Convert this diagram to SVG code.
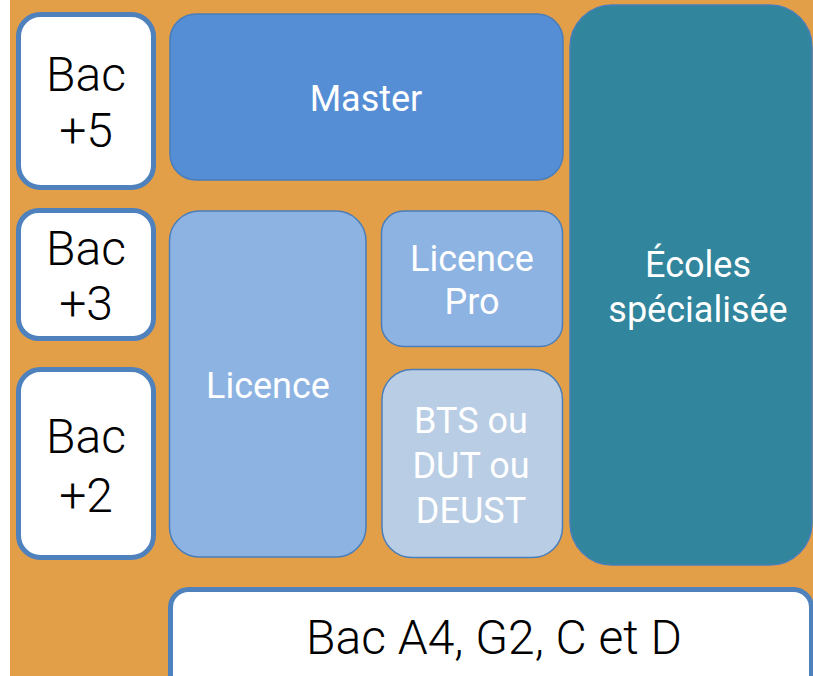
<svg xmlns="http://www.w3.org/2000/svg" width="813" height="676" viewBox="0 0 813 676">
<style>
.lvl{fill:#fff;stroke:#4F81BD;stroke-width:5}
.blk{stroke:#4A7EBB;stroke-width:1.5}
.tb{font-family:Roboto,"Liberation Sans",sans-serif;font-weight:300;fill:#000;text-anchor:middle;font-size:48px}
.tw{font-family:Roboto,"Liberation Sans",sans-serif;font-weight:400;fill:#fff;text-anchor:middle;font-size:36px}
</style>
<rect x="0" y="0" width="813" height="676" fill="#fff"/>
<rect x="10" y="0" width="803" height="676" fill="#E39F48"/>
<g id="bac5"><rect class="lvl" x="18.5" y="14.5" width="135" height="173" rx="22"/><text class="tb" x="86" y="91">Bac</text><text class="tb" x="86" y="147">+5</text></g>
<g id="master"><rect class="blk" x="170" y="14" width="393" height="166" rx="26" fill="#558ED5"/><text class="tw" x="366" y="111">Master</text></g>
<g id="ecoles"><rect class="blk" x="570" y="5" width="242" height="560" rx="42" fill="#31859C"/><text class="tw" x="698" y="277">Écoles</text><text class="tw" x="698" y="322">spécialisée</text></g>
<g id="bac3"><rect class="lvl" x="18.5" y="210.5" width="135" height="128" rx="20"/><text class="tb" x="86" y="265">Bac</text><text class="tb" x="86" y="320">+3</text></g>
<g id="licence"><rect class="blk" x="169.5" y="211" width="196.5" height="346" rx="30" fill="#8DB3E2"/><text class="tw" x="268" y="398">Licence</text></g>
<g id="licencepro"><rect class="blk" x="381.5" y="211" width="181" height="135.5" rx="22" fill="#8DB3E2"/><text class="tw" x="472" y="271">Licence</text><text class="tw" x="472" y="314">Pro</text></g>
<g id="bac2"><rect class="lvl" x="18.5" y="369.5" width="135" height="188" rx="22"/><text class="tb" x="86" y="453">Bac</text><text class="tb" x="86" y="512">+2</text></g>
<g id="bts"><rect class="blk" x="382" y="369.5" width="180.5" height="188" rx="30" fill="#B9CDE5"/><text class="tw" x="471" y="433">BTS ou</text><text class="tw" x="471" y="478">DUT ou</text><text class="tw" x="471" y="523">DEUST</text></g>
<g id="bac"><rect class="lvl" x="170.5" y="589.5" width="641" height="110" rx="18"/><text class="tb" x="494" y="654">Bac A4, G2, C et D</text></g>
<g id="connectors"></g>
</svg>
